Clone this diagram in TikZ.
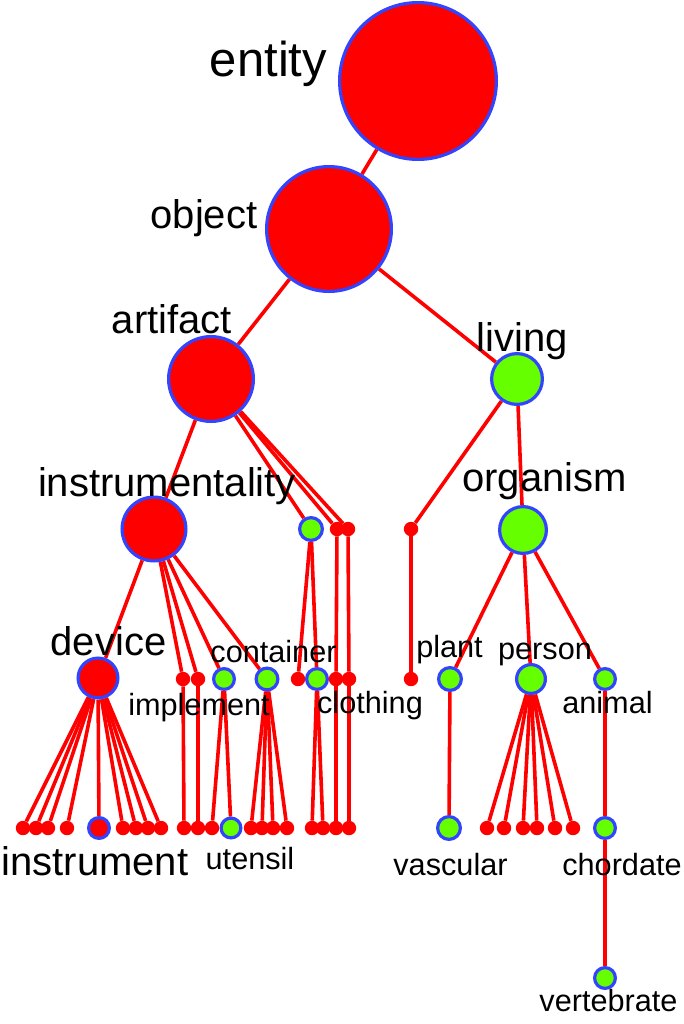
\documentclass[tikz,border=0pt]{standalone}
\usepackage{fontspec}
\setmainfont{Liberation Sans}
\usetikzlibrary{backgrounds}

\definecolor{synred}{RGB}{255,0,0}
\definecolor{syngreen}{RGB}{102,255,0}
\definecolor{ringblue}{RGB}{51,68,255}

\tikzset{
  hub/.style={circle,draw=ringblue,line width=2.4pt,inner sep=0pt,
    minimum size={(2*#1-3.2)*0.75pt}},
  leaf/.style={circle,fill=synred,inner sep=0pt,minimum size=10.8pt},
  toptext/.style={font=\fontsize{36.75}{44}\selectfont},
  midtext/.style={font=\fontsize{30}{36}\selectfont},
  lowtext/.style={font=\fontsize{23}{28}\selectfont}
}

\begin{document}
\begin{tikzpicture}[x=0.75pt,y=-0.75pt]
      \useasboundingbox (0,0) rectangle (683,1024);
      % red synsets
      \node[hub=80,fill=synred] (entity) at (418,81) {};
      \node[hub=64,fill=synred] (object) at (329,229) {};
      \node[hub=44,fill=synred] (artifact) at (211,379) {};
      \node[hub=33.5,fill=synred] (instrumentality) at (154,529) {};
      \node[hub=21.5,fill=synred] (device) at (98,678) {};
      \node[hub=12,fill=synred] (instrument) at (99,828) {};
      % green synsets
      \node[hub=27,fill=syngreen] (living) at (517,379) {};
      \node[hub=25,fill=syngreen] (organism) at (523,530) {};
      \node[hub=13,fill=syngreen] (art1) at (311,529) {};
      \node[hub=12,fill=syngreen] (implement) at (224,679) {};
      \node[hub=12.5,fill=syngreen] (container) at (267,679) {};
      \node[hub=12,fill=syngreen] (clothing) at (317,679) {};
      \node[hub=13,fill=syngreen] (plant) at (450,679) {};
      \node[hub=16,fill=syngreen] (person) at (531,679) {};
      \node[hub=12,fill=syngreen] (animal) at (605,679) {};
      \node[hub=11.5,fill=syngreen] (utensil) at (231,828) {};
      \node[hub=13,fill=syngreen] (vascular) at (449,828) {};
      \node[hub=12,fill=syngreen] (chordate) at (605,828) {};
      \node[hub=12,fill=syngreen] (vertebrate) at (605,978) {};
      % unlabelled dots
      \begin{scope}[every node/.style={leaf}]
        \node (art2) at (337,529) {};
        \node (art3) at (348,529) {};
        \node (liv1) at (411,529) {};
        \node (ins1) at (183,679) {};
        \node (ins2) at (198,679) {};
        \node (clo0) at (298,679) {};
        \node (art2b) at (336,679) {};
        \node (art3b) at (349,679) {};
        \node (liv1b) at (411,679) {};
        \node (ins1b) at (184,828) {};
        \node (ins2b) at (198,828) {};
        \node (imp1) at (212,828) {};
        \node (art2c) at (336,828) {};
        \node (art3c) at (349,828) {};
        \foreach \x [count=\i] in {23,36,48,67,123,136,148,161}
          \node (dv\i) at (\x,828) {};
        \foreach \x [count=\i] in {251,262,273,287}
          \node (con\i) at (\x,828) {};
        \foreach \x [count=\i] in {312,323}
          \node (clo\i) at (\x,828) {};
        \foreach \x [count=\i] in {487,504,523,537,555,573}
          \node (per\i) at (\x,828) {};
      \end{scope}
      % labels
      \begin{scope}[every node/.style={anchor=base,inner sep=0pt}]
        \node[toptext] (lentity) at (268.5,77) {entity};
        \node[midtext] (lobject) at (204,228) {object};
        \node[midtext] (lartifact) at (172,333) {artifact};
        \node[midtext] (lliving) at (522,351) {living};
        \node[midtext] (linstr) at (167,496) {instrumentality};
        \node[midtext] (lorganism) at (544.5,491) {organism};
        \node[midtext] (ldevice) at (108.5,655) {device};
        \node[midtext] (linstrument) at (95,875) {instrument};
        \node[lowtext] (lcontainer) at (273.5,662) {container};
        \node[lowtext] (limplement) at (199,715) {implement};
        \node[lowtext] (lclothing) at (370,713) {clothing};
        \node[lowtext] (lplant) at (449.5,657) {plant};
        \node[lowtext] (lperson) at (545,659) {person};
        \node[lowtext] (lanimal) at (607.5,713) {animal};
        \node[lowtext] (lutensil) at (250,869) {utensil};
        \node[lowtext] (lvascular) at (450.5,875) {vascular};
        \node[lowtext] (lchordate) at (622,875) {chordate};
        \node[lowtext] (lvertebrate) at (608.5,1011) {vertebrate};
      \end{scope}
      % hypernym links
      \begin{scope}[on background layer,
          every edge/.style={draw=synred,line width=2.7pt}]
        \path (entity) edge (object);
        \path (object) edge (artifact) edge (living);
        \path (artifact) edge (instrumentality) edge (art1) edge (art2) edge (art3);
        \path (living) edge (liv1) edge (organism);
        \path (instrumentality) edge (device) edge (ins1) edge (ins2)
          edge (implement) edge (container);
        \path (art1) edge (clo0) edge (clothing);
        \path (art2) edge (art2b) (art3) edge (art3b) (liv1) edge (liv1b);
        \path (organism) edge (plant) edge (person) edge (animal);
        \path (device) edge (instrument);
        \foreach \i in {1,...,8} \path (device) edge (dv\i);
        \path (ins1) edge (ins1b) (ins2) edge (ins2b);
        \path (implement) edge (imp1) edge (utensil);
        \foreach \i in {1,...,4} \path (container) edge (con\i);
        \path (clothing) edge (clo1) edge (clo2);
        \path (art2b) edge (art2c) (art3b) edge (art3c);
        \path (plant) edge (vascular);
        \foreach \i in {1,...,6} \path (person) edge (per\i);
        \path (animal) edge (chordate);
        \path (chordate) edge (vertebrate);
      \end{scope}
    \end{tikzpicture}
\end{document}
